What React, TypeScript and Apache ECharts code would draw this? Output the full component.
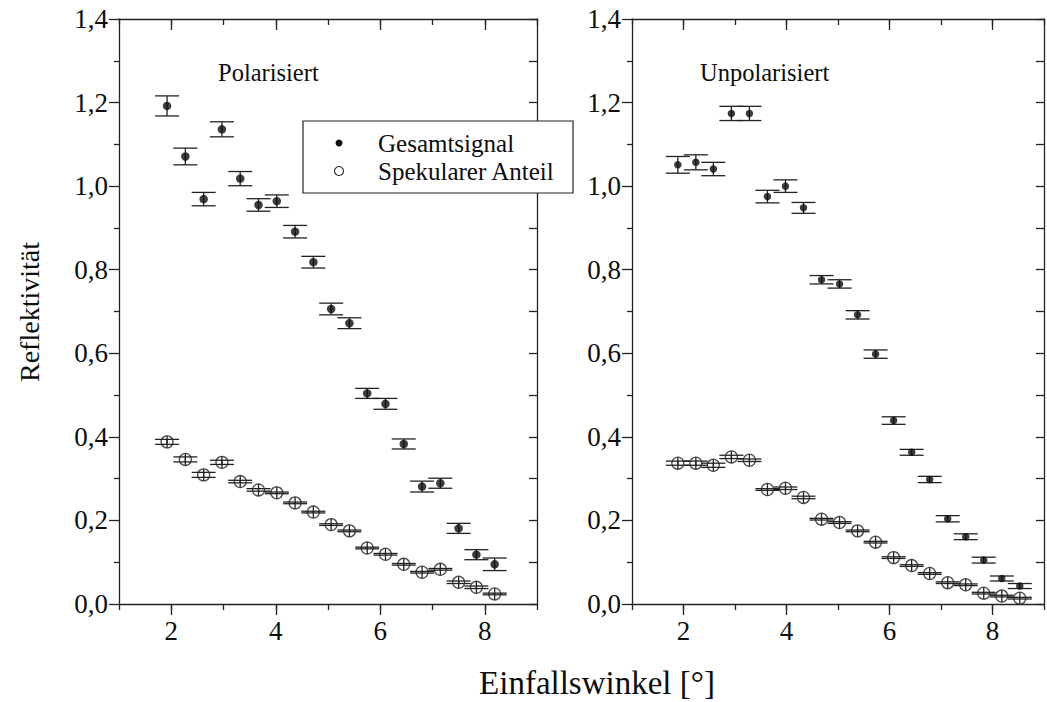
import React, { useEffect, useRef } from "react";
import * as echarts from "echarts";

// ---- Data ----
const anglesPol = [1.92, 2.27, 2.62, 2.97, 3.32, 3.67, 4.02, 4.37, 4.72, 5.06, 5.41, 5.75, 6.10, 6.45, 6.80, 7.15, 7.50, 7.84, 8.19];
const gesamtPol = [1.192, 1.071, 0.969, 1.136, 1.018, 0.955, 0.964, 0.891, 0.818, 0.706, 0.672, 0.504, 0.479, 0.383, 0.281, 0.289, 0.181, 0.118, 0.095];
const gesamtPolErr = [0.024, 0.02, 0.016, 0.018, 0.017, 0.015, 0.015, 0.015, 0.014, 0.014, 0.013, 0.012, 0.013, 0.012, 0.013, 0.012, 0.012, 0.012, 0.015];
const spekPol = [0.388, 0.346, 0.309, 0.339, 0.293, 0.273, 0.266, 0.242, 0.220, 0.190, 0.175, 0.134, 0.119, 0.095, 0.076, 0.083, 0.052, 0.040, 0.024];
const spekPolErr = [0.006, 0.006, 0.006, 0.005, 0.003, 0.003, 0.002, 0.002, 0.002, 0.002, 0.002, 0.002, 0.002, 0.002, 0.002, 0.002, 0.003, 0.003, 0.002];

const anglesUnpol = [1.89, 2.24, 2.58, 2.93, 3.28, 3.63, 3.98, 4.33, 4.68, 5.03, 5.38, 5.73, 6.08, 6.43, 6.78, 7.13, 7.48, 7.83, 8.18, 8.53];
const gesamtUnpol = [1.051, 1.057, 1.041, 1.174, 1.174, 0.975, 1.0, 0.948, 0.776, 0.766, 0.692, 0.598, 0.439, 0.363, 0.298, 0.204, 0.161, 0.105, 0.061, 0.043];
const gesamtUnpolErr = [0.02, 0.018, 0.016, 0.017, 0.017, 0.015, 0.015, 0.013, 0.01, 0.01, 0.01, 0.01, 0.009, 0.007, 0.0075, 0.0075, 0.007, 0.007, 0.006, 0.006];
const spekUnpol = [0.337, 0.337, 0.332, 0.352, 0.344, 0.274, 0.277, 0.255, 0.203, 0.195, 0.175, 0.148, 0.111, 0.092, 0.073, 0.051, 0.046, 0.026, 0.019, 0.014];
const spekUnpolErr = [0.005, 0.005, 0.005, 0.004, 0.003, 0.002, 0.003, 0.003, 0.002, 0.002, 0.002, 0.002, 0.002, 0.002, 0.002, 0.002, 0.002, 0.002, 0.002, 0.002];

const xMajorTicks = [2, 4, 6, 8];
const panelTitles = ["Polarisiert", "Unpolarisiert"];
const seriesNames = ["Gesamtsignal", "Spekularer Anteil"];
const xTitle = "Einfallswinkel [°]";
const yTitle = "Reflektivität";

const FONT = "'Liberation Serif', 'Times New Roman', serif";
const INK = "#0d0d0d";
const LINE = "#222";

function pairs(xs: number[], ys: number[]) {
  return xs.map((x, i) => [x, ys[i]]);
}
function errRows(xs: number[], ys: number[], es: number[]) {
  return xs.map((x, i) => [x, ys[i] - es[i], ys[i] + es[i], ys[i]]);
}

function errRender(half: number, crossR: number) {
  return (params: any, api: any) => {
    const x = api.value(0);
    const lo = api.coord([x, api.value(1)]);
    const hi = api.coord([x, api.value(2)]);
    const c = api.coord([x, api.value(3)]);
    const style = { stroke: LINE, lineWidth: 1.3, fill: "none" };
    const children: any[] = [
      { type: "line", shape: { x1: lo[0], y1: lo[1], x2: hi[0], y2: hi[1] }, style },
      { type: "line", shape: { x1: lo[0] - half, y1: lo[1], x2: lo[0] + half, y2: lo[1] }, style },
      { type: "line", shape: { x1: hi[0] - half, y1: hi[1], x2: hi[0] + half, y2: hi[1] }, style },
    ];
    if (crossR > 0) {
      children.push({ type: "line", shape: { x1: c[0], y1: c[1] - crossR, x2: c[0], y2: c[1] + crossR }, style });
    }
    return { type: "group", children };
  };
}

function xAxesFor(g: number) {
  const ls = { color: LINE, width: 1.3 };
  return [
    {
      gridIndex: g, type: "value", min: 1, max: 9, interval: 1, position: "bottom",
      axisLine: { show: true, onZero: false, lineStyle: ls },
      axisTick: { show: true, length: 6, lineStyle: ls },
      axisLabel: {
        show: true, margin: 13, fontSize: 27, fontFamily: FONT, color: INK,
        formatter: (v: number) => (xMajorTicks.includes(v) ? String(v) : ""),
      },
      splitLine: { show: false },
    },
    {
      gridIndex: g, type: "value", min: 1, max: 9, position: "bottom",
      axisLine: { show: false, onZero: false },
      axisTick: { show: true, length: 11, lineStyle: ls, customValues: xMajorTicks },
      axisLabel: { show: false },
      splitLine: { show: false },
    },
    {
      gridIndex: g, type: "value", min: 1, max: 9, interval: 1, position: "top",
      axisLine: { show: true, onZero: false, lineStyle: ls },
      axisTick: { show: true, inside: true, length: 6, lineStyle: ls },
      axisLabel: { show: false },
      splitLine: { show: false },
    },
    {
      gridIndex: g, type: "value", min: 1, max: 9, position: "top",
      axisLine: { show: false, onZero: false },
      axisTick: { show: true, inside: true, length: 11, lineStyle: ls, customValues: xMajorTicks },
      axisLabel: { show: false },
      splitLine: { show: false },
    },
  ];
}

function yAxesFor(g: number) {
  const ls = { color: LINE, width: 1.3 };
  return [
    {
      gridIndex: g, type: "value", min: 0, max: 1.4, interval: 0.2, position: "left",
      axisLine: { show: true, onZero: false, lineStyle: ls },
      axisTick: { show: true, length: 10, lineStyle: ls },
      minorTick: { show: true, splitNumber: 2, length: 5, lineStyle: ls },
      axisLabel: {
        show: true, margin: 11, fontSize: 27, fontFamily: FONT, color: INK,
        formatter: (v: number) => v.toFixed(1).replace(".", ","),
      },
      splitLine: { show: false },
      minorSplitLine: { show: false },
    },
    {
      gridIndex: g, type: "value", min: 0, max: 1.4, interval: 0.2, position: "right",
      axisLine: { show: true, onZero: false, lineStyle: ls },
      axisTick: { show: true, inside: true, length: 8, lineStyle: ls },
      minorTick: { show: true, splitNumber: 2, length: 8, lineStyle: ls },
      axisLabel: { show: false },
      splitLine: { show: false },
      minorSplitLine: { show: false },
    },
  ];
}

function panelSeries(xIdx: number, yIdx: number, xs: number[], g: number[], ge: number[], s: number[], se: number[], dot: number) {
  return [
    {
      name: seriesNames[0] + "-err", type: "custom", xAxisIndex: xIdx, yAxisIndex: yIdx,
      renderItem: errRender(12, 0), data: errRows(xs, g, ge), encode: { x: 0, y: [1, 2] }, z: 2, silent: true,
    },
    {
      name: seriesNames[0], type: "scatter", xAxisIndex: xIdx, yAxisIndex: yIdx,
      symbol: "circle", symbolSize: dot, itemStyle: { color: INK }, data: pairs(xs, g), z: 3,
    },
    {
      name: seriesNames[1], type: "scatter", xAxisIndex: xIdx, yAxisIndex: yIdx,
      symbol: "circle", symbolSize: 12,
      itemStyle: { color: "#fff", borderColor: LINE, borderWidth: 1.3 }, data: pairs(xs, s), z: 3,
    },
    {
      name: seriesNames[1] + "-err", type: "custom", xAxisIndex: xIdx, yAxisIndex: yIdx,
      renderItem: errRender(12, 6), data: errRows(xs, s, se), encode: { x: 0, y: [1, 2] }, z: 4, silent: true,
    },
  ];
}

export default function App() {
  const ref = useRef<HTMLDivElement>(null);
  useEffect(() => {
    if (!ref.current) return;
    const chart = echarts.init(ref.current, null, { renderer: "svg" });
    const txt = (text: string, x: number, y: number, size: number, extra: any = {}) => ({
      type: "text", x, y, z: 100,
      style: { text, fontSize: size, fontFamily: FONT, fill: INK, align: "left", verticalAlign: "middle", ...extra.style },
      ...(extra.rotation !== undefined ? { rotation: extra.rotation } : {}),
    });
    chart.setOption({
      animation: false,
      backgroundColor: "#fff",
      grid: [
        { left: 119, top: 19, width: 418, height: 585 },
        { left: 632, top: 19, width: 418, height: 585 },
      ],
      xAxis: [...xAxesFor(0), ...xAxesFor(1)],
      yAxis: [...yAxesFor(0), ...yAxesFor(1)],
      series: [
        ...panelSeries(0, 0, anglesPol, gesamtPol, gesamtPolErr, spekPol, spekPolErr, 8.5),
        ...panelSeries(4, 2, anglesUnpol, gesamtUnpol, gesamtUnpolErr, spekUnpol, spekUnpolErr, 7.5),
      ],
      graphic: [
        txt(panelTitles[0], 218, 72, 24.5),
        txt(panelTitles[1], 700, 72, 24.5),
        txt(xTitle, 597, 683, 33, { style: { align: "center" } }),
        txt(yTitle, 29, 312, 28, { style: { align: "center" }, rotation: Math.PI / 2 }),
        {
          type: "rect", z: 99,
          shape: { x: 303, y: 121, width: 270, height: 72 },
          style: { fill: "#fff", stroke: LINE, lineWidth: 1.2 },
        },
        { type: "circle", z: 100, shape: { cx: 339, cy: 143, r: 3.5 }, style: { fill: INK } },
        { type: "circle", z: 100, shape: { cx: 339, cy: 171, r: 4.5 }, style: { fill: "#fff", stroke: LINE, lineWidth: 1.1 } },
        txt(seriesNames[0], 378, 143, 25),
        txt(seriesNames[1], 378, 171, 25),
      ],
    });
    return () => chart.dispose();
  }, []);
  return (
    <div
      ref={ref}
      style={{ position: "absolute", left: 0, top: 0, width: 1047, height: 702, background: "#fff" }}
    />
  );
}
